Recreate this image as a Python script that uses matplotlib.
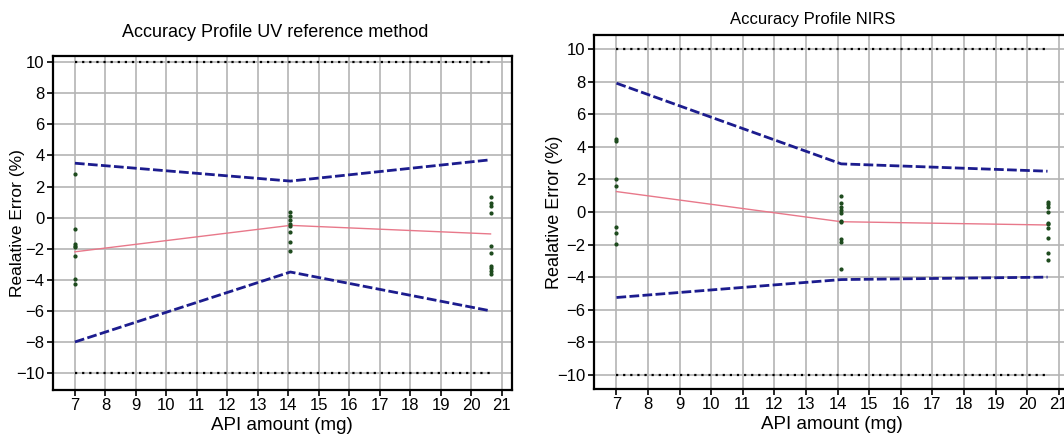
import matplotlib
matplotlib.use("Agg")
from matplotlib import pyplot as plt

plt.rcParams["font.family"] = ["Liberation Sans", "DejaVu Sans"]

# concentration levels (mg)
levels_uv = [7.0, 14.07, 20.64]
levels_nir = [7.0, 14.11, 20.64]

# UV reference method
uv_upper = [3.5, 2.35, 3.72]
uv_lower = [-8.0, -3.5, -6.0]
uv_bias = [-2.2, -0.5, -1.05]
uv_pts_1 = [2.83, -0.73, -1.69, -1.8, -1.89, -2.44, -3.94, -4.27]
uv_pts_2 = [0.37, 0.13, -0.13, -0.39, -0.56, -0.94, -1.59, -2.17]
uv_pts_3 = [1.31, 0.94, 0.73, 0.30, -1.8, -2.27, -3.09, -3.26, -3.45, -3.6]

# NIRS
nir_upper = [7.9, 2.95, 2.5]
nir_lower = [-5.25, -4.15, -4.0]
nir_bias = [1.25, -0.6, -0.8]
nir_pts_1 = [4.5, 4.37, 2.02, 1.61, -0.94, -1.27, -1.98]
nir_pts_2 = [1.0, 0.57, 0.29, 0.12, -0.04, -0.53, -0.61, -1.67, -1.84, -3.52]
nir_pts_3 = [0.63, 0.49, 0.33, 0.02, -0.66, -0.76, -0.96, -1.62, -2.54, -2.97]

acc_limit = 10

fig = plt.figure(figsize=(10.64, 4.37), dpi=100)
ax1 = fig.add_axes([0.0498, 0.1076, 0.431, 0.764])
ax2 = fig.add_axes([0.558, 0.11, 0.447, 0.81])


def draw(ax, levels, upper, lower, bias, pts, ylim, title, title_x, pad,
         ylab_x, title_fs, lab_fs):
    ax.plot(levels, upper, color="#1c1c8e", lw=2.0, dashes=(3.5, 1.2), zorder=3)
    ax.plot(levels, lower, color="#1c1c8e", lw=2.0, dashes=(3.5, 1.2), zorder=3)
    ax.plot(levels, bias, color="#e8788a", lw=1.0, zorder=3)
    ax.plot([levels[0], levels[-1]], [acc_limit, acc_limit], color="black",
            lw=1.6, linestyle=(0, (1, 2.2)), zorder=3)
    ax.plot([levels[0], levels[-1]], [-acc_limit, -acc_limit], color="black",
            lw=1.6, linestyle=(0, (1, 2.2)), zorder=3)
    for lev, p in zip(levels, pts):
        ax.plot([lev] * len(p), p, "o", ms=2.0, color="#1d4a1d", zorder=4)
    ax.set_xlim(6.28, 21.33)
    ax.set_ylim(*ylim)
    ax.set_xticks(range(7, 22))
    ax.set_yticks(range(-10, 11, 2))
    ax.grid(True, color="#b4b4b4", lw=1.2)
    ax.set_axisbelow(True)
    for s in ax.spines.values():
        s.set_linewidth(1.6)
    ax.tick_params(direction="out", length=4, width=1.2, labelsize=12, pad=2)
    ax.set_xlabel("API amount (mg)", fontsize=13.5, labelpad=3)
    ax.set_ylabel("Realative Error (%)", fontsize=lab_fs)
    ax.yaxis.set_label_coords(ylab_x, 0.5)
    ax.set_title(title, fontsize=title_fs, pad=pad, x=title_x)


draw(ax1, levels_uv, uv_upper, uv_lower, uv_bias,
     [uv_pts_1, uv_pts_2, uv_pts_3], (-11.09, 10.39),
     "Accuracy Profile UV reference method", 0.484, 14, -0.061, 13, 12.5)
draw(ax2, levels_nir, nir_upper, nir_lower, nir_bias,
     [nir_pts_1, nir_pts_2, nir_pts_3], (-10.86, 10.86),
     "Accuracy Profile NIRS", 0.46, 8, -0.065, 12, 13)

plt.savefig("out.png", dpi=100)
